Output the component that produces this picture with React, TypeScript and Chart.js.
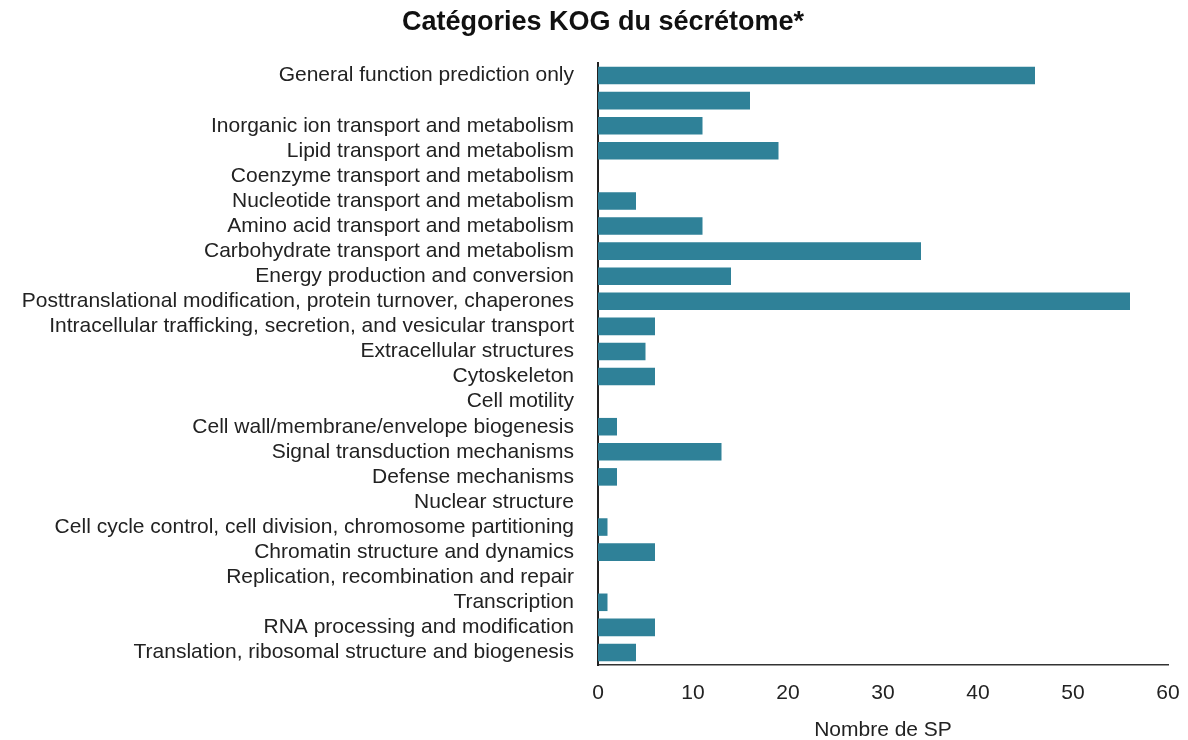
import React, { useEffect, useRef } from "react";
import { Chart, registerables } from "chart.js";

Chart.register(...registerables);

const categories: string[] = [
  "General function prediction only",
  "",
  "Inorganic ion transport and metabolism",
  "Lipid transport and metabolism",
  "Coenzyme transport and metabolism",
  "Nucleotide transport and metabolism",
  "Amino acid transport and metabolism",
  "Carbohydrate transport and metabolism",
  "Energy production and conversion",
  "Posttranslational modification, protein turnover, chaperones",
  "Intracellular trafficking, secretion, and vesicular transport",
  "Extracellular structures",
  "Cytoskeleton",
  "Cell motility",
  "Cell wall/membrane/envelope biogenesis",
  "Signal transduction mechanisms",
  "Defense mechanisms",
  "Nuclear structure",
  "Cell cycle control, cell division, chromosome partitioning",
  "Chromatin structure and dynamics",
  "Replication, recombination and repair",
  "Transcription",
  "RNA processing and modification",
  "Translation, ribosomal structure and biogenesis",
];

const counts: number[] = [46, 16, 11, 19, 0, 4, 11, 34, 14, 56, 6, 5, 6, 0, 2, 13, 2, 0, 1, 6, 0, 1, 6, 4];

const xTicks: number[] = [0, 10, 20, 30, 40, 50, 60];

const titleText = "Catégories KOG du sécrétome*";
const xTitle = "Nombre de SP";

const FONT = "'Liberation Sans', Arial, Helvetica, sans-serif";

const titlePlugin = {
  id: "offsetTitle",
  afterDraw(chart: any) {
    const ctx = chart.ctx;
    ctx.save();
    ctx.font = `bold 27px ${FONT}`;
    ctx.fillStyle = "#111";
    ctx.textAlign = "center";
    ctx.textBaseline = "middle";
    ctx.fillText(titleText, 603, 23);
    ctx.restore();
  },
};

export default function App() {
  const ref = useRef<HTMLCanvasElement | null>(null);

  useEffect(() => {
    document.body.style.margin = "0";
    if (!ref.current) return;
    const chart = new Chart(ref.current, {
      type: "bar",
      data: {
        labels: categories,
        datasets: [
          {
            data: counts,
            backgroundColor: "#2f8198",
            borderWidth: 0,
            categoryPercentage: 0.7,
            barPercentage: 1,
          },
        ],
      },
      plugins: [titlePlugin],
      options: {
        indexAxis: "y",
        animation: false,
        responsive: false,
        maintainAspectRatio: false,
        layout: { padding: { left: 0, right: 20, top: 63, bottom: 0 } },
        plugins: {
          legend: { display: false },
          tooltip: { enabled: false },
          title: { display: false },
        },
        scales: {
          x: {
            min: 0,
            max: 60,
            afterBuildTicks: (scale: any) => {
              scale.ticks = xTicks.map((v) => ({ value: v }));
            },
            afterFit: (scale: any) => {
              scale.height = 75;
              scale.paddingLeft = 0;
              scale.paddingRight = 0;
            },
            grid: { display: false, drawTicks: false },
            border: { display: true, color: "#333", width: 1.5 },
            ticks: {
              color: "#222",
              padding: 16,
              font: { family: FONT, size: 21 },
            },
            title: {
              display: true,
              text: xTitle,
              color: "#222",
              padding: { top: 0, bottom: -3 },
              font: { family: FONT, size: 21 },
            },
          },
          y: {
            afterFit: (scale: any) => {
              scale.width = 598;
            },
            grid: { display: false, drawTicks: false },
            border: { display: true, color: "#222", width: 2 },
            ticks: {
              color: "#222",
              padding: 24,
              autoSkip: false,
              font: { family: FONT, size: 21 },
            },
          },
        },
      },
    });
    return () => chart.destroy();
  }, []);

  return (
    <div style={{ position: "absolute", left: 0, top: 0, width: 1188, height: 740, background: "#fff" }}>
      <canvas ref={ref} width={1188} height={740} style={{ width: 1188, height: 740 }} />
    </div>
  );
}
